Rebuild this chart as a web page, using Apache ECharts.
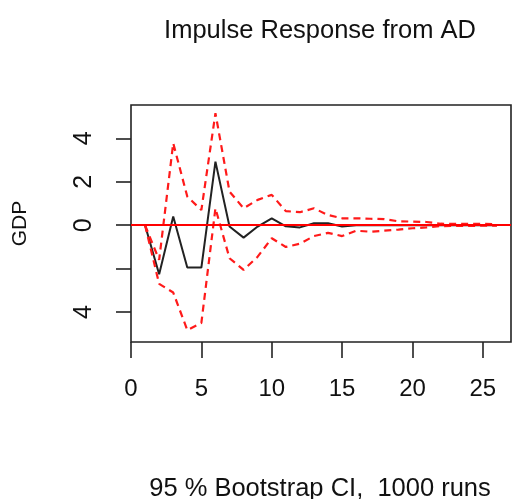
<!DOCTYPE html>
<html>
<head>
<meta charset="utf-8">
<script src="https://cdn.jsdelivr.net/npm/echarts@6/dist/echarts.min.js"></script>
<style>
html,body{margin:0;padding:0;background:#fff;}
#chart{width:512px;height:499px;}
</style>
</head>
<body>
<div id="chart"></div>
<script>
var steps = [1,2,3,4,5,6,7,8,9,10,11,12,13,14,15,16,17,18,19,20,21,22,23,24,25,26];
var irf   = [0,-2.26,0.4,-1.95,-1.95,2.93,-0.06,-0.57,-0.06,0.32,-0.05,-0.1,0.09,0.09,-0.06,0.0,0.01,0.0,0.01,0.0,0.0,0.01,0.0,0.0,0.0,0.0];
var upper = [0,-1.6,3.78,1.32,0.7,5.16,1.55,0.78,1.17,1.4,0.65,0.6,0.78,0.47,0.32,0.32,0.3,0.28,0.18,0.17,0.15,0.07,0.06,0.06,0.06,0.05];
var lower = [0,-2.7,-3.1,-4.83,-4.5,0.78,-1.52,-2.06,-1.45,-0.6,-1.0,-0.85,-0.5,-0.35,-0.5,-0.25,-0.3,-0.25,-0.2,-0.14,-0.1,-0.04,-0.03,-0.03,-0.02,-0.02];
var xTicks = [0,5,10,15,20,25];
var yTicks = [-4,-2,0,2,4];
var yTickLabels = {'-4':'4','0':'0','2':'2','4':'4'};
var titleText = 'Impulse Response from AD';
var subText = '95 % Bootstrap CI,  1000 runs';
var yName = 'GDP';

function pairs(arr){ return steps.map(function(s,i){ return [s, arr[i]]; }); }

var font = 'Liberation Sans, Arial, sans-serif';
var chart = echarts.init(document.getElementById('chart'), null, {renderer:'canvas'});
chart.setOption({
  animation:false,
  backgroundColor:'#fff',
  title:[
    {text:titleText, left:315, top:13, textAlign:'center',
     textStyle:{fontFamily:font, fontSize:25.5, fontWeight:'normal', color:'#111'}},
    {text:subText, left:315, top:471, textAlign:'center',
     textStyle:{fontFamily:font, fontSize:25.5, fontWeight:'normal', color:'#111'}}
  ],
  grid:{left:131, right:1, top:105, bottom:157, show:true, borderColor:'#222', borderWidth:1.6, backgroundColor:'transparent'},
  xAxis:{type:'value', min:0, max:27,
    axisLine:{show:false, onZero:false},
    splitLine:{show:false},
    axisTick:{show:true, customValues:xTicks, length:16, lineStyle:{color:'#222', width:1.6}},
    axisLabel:{customValues:xTicks, margin:35, fontFamily:font, fontSize:24, color:'#111'}
  },
  yAxis:{type:'value', min:-5.38, max:5.54,
    name:yName, nameLocation:'middle', nameRotate:90, nameGap:100,
    nameTextStyle:{fontFamily:font, fontSize:21, color:'#111'},
    axisLine:{show:false, onZero:false},
    splitLine:{show:false},
    axisTick:{show:true, customValues:yTicks, length:15, lineStyle:{color:'#222', width:1.6}},
    axisLabel:{customValues:[-4,0,2,4], rotate:90, margin:34, fontFamily:font, fontSize:25, color:'#111',
      formatter:function(v){ var k = String(Math.round(v)); return yTickLabels[k] !== undefined ? yTickLabels[k] : ''; }}
  },
  series:[
    {type:'line', data:pairs(irf), symbol:'none', lineStyle:{color:'#222', width:2}, z:2,
     markLine:{silent:true, symbol:'none', label:{show:false}, lineStyle:{color:'#ff0000', width:1.8, type:'solid'}, data:[{yAxis:0}], z:5}},
    {type:'line', data:pairs(upper), symbol:'none', lineStyle:{color:'#ff1a1a', width:2.2, type:[7,5]}, z:3},
    {type:'line', data:pairs(lower), symbol:'none', lineStyle:{color:'#ff1a1a', width:2.2, type:[7,5]}, z:3}
  ]
});
</script>
</body>
</html>
